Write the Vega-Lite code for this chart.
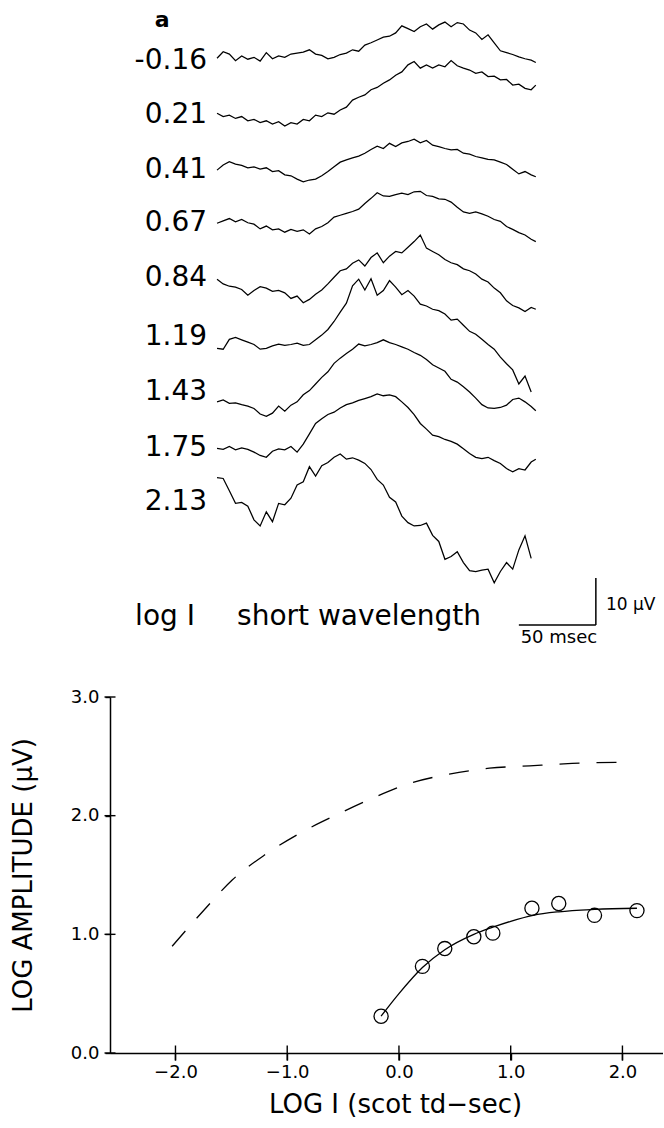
{
  "$schema": "https://vega.github.io/schema/vega-lite/v6.json",
  "padding": {"left": 10, "top": 0, "right": 0, "bottom": 0},
  "bounds": "flush",
  "spacing": 39,
  "background": "white",
  "config": {"view": {"stroke": null}, "font": "DejaVu Sans"},
  "vconcat": [
    {
      "width": 553,
      "height": 658,
      "layer": [
        {
          "data": {"values": [
            {"t":0,"L1":127.6,"L2":115.9,"L3":103.8,"L4":92.5,"L5":80.6,"L6":65.9,"L7":54.5,"L8":44.6,"L9":38.4},
            {"t":4,"L1":129.0,"L2":115.2,"L3":104.9,"L4":93.0,"L5":79.6,"L6":65.7,"L7":54.9,"L8":44.4,"L9":38.2},
            {"t":8,"L1":128.5,"L2":115.5,"L3":105.6,"L4":93.5,"L5":79.1,"L6":67.8,"L7":54.2,"L8":45.0,"L9":35.6},
            {"t":12,"L1":127.1,"L2":114.8,"L3":105.1,"L4":92.8,"L5":78.9,"L6":68.2,"L7":54.3,"L8":44.3,"L9":32.9},
            {"t":16,"L1":128.1,"L2":115.2,"L3":104.8,"L4":93.3,"L5":78.4,"L6":67.7,"L7":53.9,"L8":44.7,"L9":33.1},
            {"t":20,"L1":127.4,"L2":114.3,"L3":104.3,"L4":92.6,"L5":77.2,"L6":67.2,"L7":53.6,"L8":44.4,"L9":32.3},
            {"t":24,"L1":127.8,"L2":114.6,"L3":104.5,"L4":92.3,"L5":78.2,"L6":66.7,"L7":53.1,"L8":43.8,"L9":29.4},
            {"t":28,"L1":127.0,"L2":113.9,"L3":104.0,"L4":91.3,"L5":79.0,"L6":65.7,"L7":51.9,"L8":43.1,"L9":28.1},
            {"t":32,"L1":128.8,"L2":114.3,"L3":104.3,"L4":91.9,"L5":78.7,"L6":65.9,"L7":51.4,"L8":42.7,"L9":31.1},
            {"t":36,"L1":127.5,"L2":113.6,"L3":103.5,"L4":91.1,"L5":78.0,"L6":66.4,"L7":52.1,"L8":44.0,"L9":29.0},
            {"t":40,"L1":128.1,"L2":114.1,"L3":103.7,"L4":91.3,"L5":78.2,"L6":66.8,"L7":53.6,"L8":44.5,"L9":32.9},
            {"t":44,"L1":127.8,"L2":113.2,"L3":102.8,"L4":90.6,"L5":77.7,"L6":66.5,"L7":52.5,"L8":44.3,"L9":32.6},
            {"t":48,"L1":128.5,"L2":113.9,"L3":102.6,"L4":91.2,"L5":76.5,"L6":66.7,"L7":53.8,"L8":45.0,"L9":34.0},
            {"t":52,"L1":128.7,"L2":113.6,"L3":101.9,"L4":90.8,"L5":77.0,"L6":67.0,"L7":54.5,"L8":43.8,"L9":36.8},
            {"t":56,"L1":128.9,"L2":114.6,"L3":101.3,"L4":91.1,"L5":75.6,"L6":66.5,"L7":56.0,"L8":45.5,"L9":37.5},
            {"t":60,"L1":129.4,"L2":114.3,"L3":101.7,"L4":90.2,"L5":76.3,"L6":66.7,"L7":56.9,"L8":47.7,"L9":40.7},
            {"t":64,"L1":128.5,"L2":115.5,"L3":101.9,"L4":91.3,"L5":77.4,"L6":67.7,"L7":58.3,"L8":49.9,"L9":38.7},
            {"t":68,"L1":128.2,"L2":115.2,"L3":102.6,"L4":91.8,"L5":78.3,"L6":68.7,"L7":59.7,"L8":50.9,"L9":40.9},
            {"t":72,"L1":127.5,"L2":116.0,"L3":103.5,"L4":92.6,"L5":79.6,"L6":69.9,"L7":60.9,"L8":51.8,"L9":41.6},
            {"t":76,"L1":127.8,"L2":115.7,"L3":104.5,"L4":93.8,"L5":81.0,"L6":71.6,"L7":62.7,"L8":52.3,"L9":42.7},
            {"t":80,"L1":128.4,"L2":116.6,"L3":105.5,"L4":94.2,"L5":82.4,"L6":73.6,"L7":63.8,"L8":53.2,"L9":43.4},
            {"t":84,"L1":128.7,"L2":117.2,"L3":106.0,"L4":94.6,"L5":82.8,"L6":75.5,"L7":64.8,"L8":53.9,"L9":42.3},
            {"t":88,"L1":129.4,"L2":118.7,"L3":106.4,"L4":95.0,"L5":84.0,"L6":79.2,"L7":65.7,"L8":54.3,"L9":42.6},
            {"t":92,"L1":129.1,"L2":119.3,"L3":106.8,"L4":95.5,"L5":84.7,"L6":80.6,"L7":66.8,"L8":54.8,"L9":42.1},
            {"t":96,"L1":130.4,"L2":119.8,"L3":107.4,"L4":96.7,"L5":83.4,"L6":78.3,"L7":66.4,"L8":55.2,"L9":41.4},
            {"t":100,"L1":130.9,"L2":120.9,"L3":108.2,"L4":97.8,"L5":85.2,"L6":80.7,"L7":66.7,"L8":55.6,"L9":40.1},
            {"t":104,"L1":131.5,"L2":121.4,"L3":108.9,"L4":99.0,"L5":86.2,"L6":77.2,"L7":67.1,"L8":56.2,"L9":38.0},
            {"t":108,"L1":132.1,"L2":122.3,"L3":108.4,"L4":98.3,"L5":84.1,"L6":78.2,"L7":67.7,"L8":55.8,"L9":36.8},
            {"t":112,"L1":132.3,"L2":123.0,"L3":109.5,"L4":98.2,"L5":85.5,"L6":80.3,"L7":67.1,"L8":56.0,"L9":34.2},
            {"t":116,"L1":133.0,"L2":124.0,"L3":108.8,"L4":98.6,"L5":86.5,"L6":78.9,"L7":66.7,"L8":55.6,"L9":33.2},
            {"t":120,"L1":134.5,"L2":124.7,"L3":109.6,"L4":98.9,"L5":86.2,"L6":77.3,"L7":66.2,"L8":54.5,"L9":30.2},
            {"t":124,"L1":133.9,"L2":126.2,"L3":109.9,"L4":98.6,"L5":87.4,"L6":78.2,"L7":65.7,"L8":53.3,"L9":28.8},
            {"t":128,"L1":133.3,"L2":126.9,"L3":110.4,"L4":99.2,"L5":88.6,"L6":77.0,"L7":65.0,"L8":51.8,"L9":28.1},
            {"t":132,"L1":134.3,"L2":125.5,"L3":109.6,"L4":99.3,"L5":90.0,"L6":75.3,"L7":64.4,"L8":49.9,"L9":28.2},
            {"t":136,"L1":134.9,"L2":126.2,"L3":110.1,"L4":98.4,"L5":87.2,"L6":74.9,"L7":63.5,"L8":48.7,"L9":28.7},
            {"t":140,"L1":133.8,"L2":125.5,"L3":109.1,"L4":98.2,"L5":86.5,"L6":74.2,"L7":62.4,"L8":47.4,"L9":26.1},
            {"t":144,"L1":134.7,"L2":126.2,"L3":108.8,"L4":97.7,"L5":85.8,"L6":73.9,"L7":61.7,"L8":47.1,"L9":24.8},
            {"t":148,"L1":135.3,"L2":125.8,"L3":108.4,"L4":97.6,"L5":84.8,"L6":73.2,"L7":61.0,"L8":46.5,"L9":21.0},
            {"t":152,"L1":134.3,"L2":127.1,"L3":108.1,"L4":97.0,"L5":84.1,"L6":71.9,"L7":59.3,"L8":46.1,"L9":21.6},
            {"t":156,"L1":135.2,"L2":126.0,"L3":108.2,"L4":95.9,"L5":83.7,"L6":72.1,"L7":58.7,"L8":45.5,"L9":22.6},
            {"t":160,"L1":134.9,"L2":125.5,"L3":107.4,"L4":94.9,"L5":82.8,"L6":70.8,"L7":57.7,"L8":44.5,"L9":20.3},
            {"t":164,"L1":133.6,"L2":125.1,"L3":107.2,"L4":94.6,"L5":82.4,"L6":69.5,"L7":56.6,"L8":43.5,"L9":18.6},
            {"t":168,"L1":133.0,"L2":124.4,"L3":106.7,"L4":94.9,"L5":81.7,"L6":68.9,"L7":55.3,"L8":42.7,"L9":18.4},
            {"t":172,"L1":131.6,"L2":124.7,"L3":106.4,"L4":94.5,"L5":80.6,"L6":67.8,"L7":53.9,"L8":42.4,"L9":18.7},
            {"t":176,"L1":132.6,"L2":123.7,"L3":106.1,"L4":94.0,"L5":80.0,"L6":66.7,"L7":53.2,"L8":42.7,"L9":18.9},
            {"t":180,"L1":130.9,"L2":123.8,"L3":106.0,"L4":93.3,"L5":78.7,"L6":65.7,"L7":53.1,"L8":42.0,"L9":16.0},
            {"t":184,"L1":129.2,"L2":123.0,"L3":105.5,"L4":92.9,"L5":77.7,"L6":64.0,"L7":53.3,"L8":41.4,"L9":18.4},
            {"t":188,"L1":128.8,"L2":123.1,"L3":105.0,"L4":91.8,"L5":76.0,"L6":62.6,"L7":53.8,"L8":40.3,"L9":20.3},
            {"t":192,"L1":128.4,"L2":121.9,"L3":104.0,"L4":91.2,"L5":75.0,"L6":61.3,"L7":55.0,"L8":39.6,"L9":18.9},
            {"t":196,"L1":127.9,"L2":122.1,"L3":103.0,"L4":90.5,"L5":74.5,"L6":58.3,"L7":55.3,"L8":40.3,"L9":23.0},
            {"t":200,"L1":127.5,"L2":121.2,"L3":103.5,"L4":90.0,"L5":73.7,"L6":60.0,"L7":54.5,"L8":40.0,"L9":26.0},
            {"t":204,"L1":127.2,"L2":120.9,"L3":102.8,"L4":89.1,"L5":74.6,"L6":56.6,"L7":53.5,"L8":41.7,"L9":21.2},
            {"t":207,"L1":126.7,"L2":121.9,"L3":102.4,"L4":88.6,"L5":74.2,"L6":null,"L7":52.6,"L8":42.3,"L9":null}
          ]},
          "transform": [{"fold": ["L1","L2","L3","L4","L5","L6","L7","L8","L9"], "as": ["trace","uV"]}],
          "mark": {"type": "line", "color": "black", "strokeWidth": 1.25},
          "encoding": {
            "x": {"field": "t", "type": "quantitative", "scale": {"domain": [-69.5, 289.6], "nice": false, "zero": false}, "axis": null},
            "y": {"field": "uV", "type": "quantitative", "scale": {"domain": [0, 140], "nice": false, "zero": false}, "axis": null},
            "detail": {"field": "trace"}
          }
        },
        {
          "data": {"values": [
            {"lab":"-0.16","level":127.0},{"lab":"0.21","level":115.5},{"lab":"0.41","level":103.8},
            {"lab":"0.67","level":92.6},{"lab":"0.84","level":80.9},{"lab":"1.19","level":68.3},
            {"lab":"1.43","level":56.6},{"lab":"1.75","level":44.7},{"lab":"2.13","level":33.2}
          ]},
          "mark": {"type": "text", "align": "right", "baseline": "middle", "fontSize": 28, "font": "DejaVu Sans", "color": "black"},
          "encoding": {
            "x": {"datum": -6.5, "type": "quantitative"},
            "y": {"field": "level", "type": "quantitative"},
            "text": {"field": "lab"}
          }
        },
        {
          "data": {"values": [{"t":196,"t2":246,"v":7,"v2":7},{"t":246,"t2":246,"v":7,"v2":17}]},
          "mark": {"type": "rule", "color": "black", "strokeWidth": 1.5},
          "encoding": {
            "x": {"field": "t", "type": "quantitative"},
            "x2": {"field": "t2"},
            "y": {"field": "v", "type": "quantitative"},
            "y2": {"field": "v2"}
          }
        },
        {
          "data": {"values": [{"s": "a"}]},
          "mark": {"type": "text", "align": "center", "baseline": "alphabetic", "fontSize": 22, "fontWeight": "bold", "font": "DejaVu Sans", "color": "black"},
          "encoding": {"x": {"datum": -35.7, "type": "quantitative"}, "y": {"datum": 134.3, "type": "quantitative"}, "text": {"field": "s"}}
        },
        {
          "data": {"values": [{"s": "log I"}]},
          "mark": {"type": "text", "align": "left", "baseline": "alphabetic", "fontSize": 28, "font": "DejaVu Sans", "color": "black"},
          "encoding": {"x": {"datum": -53.2, "type": "quantitative"}, "y": {"datum": 7, "type": "quantitative"}, "text": {"field": "s"}}
        },
        {
          "data": {"values": [{"s": "short wavelength"}]},
          "mark": {"type": "text", "align": "left", "baseline": "alphabetic", "fontSize": 28, "font": "DejaVu Sans", "color": "black"},
          "encoding": {"x": {"datum": 13, "type": "quantitative"}, "y": {"datum": 7, "type": "quantitative"}, "text": {"field": "s"}}
        },
        {
          "data": {"values": [{"s": "10 µV"}]},
          "mark": {"type": "text", "align": "left", "baseline": "middle", "fontSize": 17, "font": "DejaVu Sans", "color": "black"},
          "encoding": {"x": {"datum": 252.6, "type": "quantitative"}, "y": {"datum": 11.3, "type": "quantitative"}, "text": {"field": "s"}}
        },
        {
          "data": {"values": [{"s": "50 msec"}]},
          "mark": {"type": "text", "align": "center", "baseline": "middle", "fontSize": 18, "font": "DejaVu Sans", "color": "black"},
          "encoding": {"x": {"datum": 222, "type": "quantitative"}, "y": {"datum": 4.3, "type": "quantitative"}, "text": {"field": "s"}}
        }
      ]
    },
    {
      "width": 553,
      "height": 356,
      "encoding": {
        "x": {"field": "x", "type": "quantitative", "title": "LOG I (scot td−sec)",
          "scale": {"domain": [-2.586, 2.363], "nice": false, "zero": false},
          "axis": {"values": [-2, -1, 0, 1, 2], "format": ".1f", "ticks": true, "tickSize": 7, "tickColor": "black", "tickWidth": 1.4, "grid": false,
            "labelPadding": 3, "labelFontSize": 18, "labelFont": "DejaVu Sans", "labelColor": "black", "labelFlush": false,
            "domainColor": "black", "domainWidth": 1.5,
            "titleFontSize": 26, "titleFontWeight": "normal", "titleFont": "DejaVu Sans", "titleColor": "black",
            "titleX": 285, "titleY": 59, "titleBaseline": "alphabetic", "titleAlign": "center"}},
        "y": {"field": "y", "type": "quantitative", "title": "LOG AMPLITUDE (μV)",
          "scale": {"domain": [0, 3], "nice": false, "zero": false},
          "axis": {"values": [0, 1, 2, 3], "format": ".1f", "ticks": true, "tickSize": 5, "tickColor": "black", "tickWidth": 1.4, "grid": false,
            "labelPadding": 6, "labelFontSize": 18, "labelFont": "DejaVu Sans", "labelColor": "black", "labelFlush": false,
            "domainColor": "black", "domainWidth": 1.5,
            "titleFontSize": 26, "titleFontWeight": "normal", "titleFont": "DejaVu Sans", "titleColor": "black",
            "titleAngle": 270, "titleX": -79, "titleY": 178, "titleBaseline": "alphabetic", "titleAlign": "center"}}
      },
      "layer": [
        {
          "data": {"values": [
            {"x":-2.03,"y":0.90},{"x":-1.73,"y":1.22},{"x":-1.49,"y":1.46},{"x":-1.2,"y":1.67},
            {"x":-0.89,"y":1.85},{"x":-0.53,"y":2.02},{"x":-0.23,"y":2.15},{"x":0.09,"y":2.27},
            {"x":0.45,"y":2.35},{"x":0.81,"y":2.40},{"x":1.17,"y":2.42},{"x":1.55,"y":2.44},{"x":1.97,"y":2.45}
          ]},
          "mark": {"type": "line", "color": "black", "strokeWidth": 1.3, "strokeDash": [20, 17], "interpolate": "monotone"}
        },
        {
          "data": {"values": [
            {"x":-0.16,"y":0.31},{"x":0.0,"y":0.50},{"x":0.21,"y":0.72},{"x":0.41,"y":0.87},
            {"x":0.67,"y":1.00},{"x":0.84,"y":1.06},{"x":1.0,"y":1.11},{"x":1.2,"y":1.16},
            {"x":1.43,"y":1.19},{"x":1.75,"y":1.21},{"x":2.13,"y":1.22}
          ]},
          "mark": {"type": "line", "color": "black", "strokeWidth": 1.3, "interpolate": "monotone"}
        },
        {
          "data": {"values": [
            {"x":-0.16,"y":0.31},{"x":0.21,"y":0.73},{"x":0.41,"y":0.88},{"x":0.67,"y":0.98},
            {"x":0.84,"y":1.01},{"x":1.19,"y":1.22},{"x":1.43,"y":1.26},{"x":1.75,"y":1.16},{"x":2.13,"y":1.20}
          ]},
          "mark": {"type": "point", "shape": "circle", "filled": false, "size": 200, "color": "black", "strokeWidth": 1.3, "opacity": 1}
        },
        {
          "data": {"values": [{"x":-2,"y":0},{"x":-1,"y":0},{"x":0,"y":0},{"x":1,"y":0},{"x":2,"y":0}]},
          "mark": {"type": "tick", "orient": "vertical", "size": 15, "thickness": 1.4, "color": "black", "opacity": 1}
        },
        {
          "data": {"values": [{"x":-2.586,"y":0},{"x":-2.586,"y":1},{"x":-2.586,"y":2},{"x":-2.586,"y":3}]},
          "mark": {"type": "tick", "orient": "horizontal", "size": 11, "thickness": 1.4, "color": "black", "opacity": 1}
        },
        {
          "data": {"values": [{"s": "b"}]},
          "mark": {"type": "text", "align": "center", "baseline": "alphabetic", "fontSize": 22, "fontWeight": "bold", "font": "DejaVu Sans", "color": "black"},
          "encoding": {
            "x": {"datum": -3.351, "type": "quantitative", "title": "LOG I (scot td−sec)"},
            "y": {"datum": 2.958, "type": "quantitative", "title": "LOG AMPLITUDE (μV)"},
            "text": {"field": "s"}
          }
        }
      ]
    }
  ]
}
